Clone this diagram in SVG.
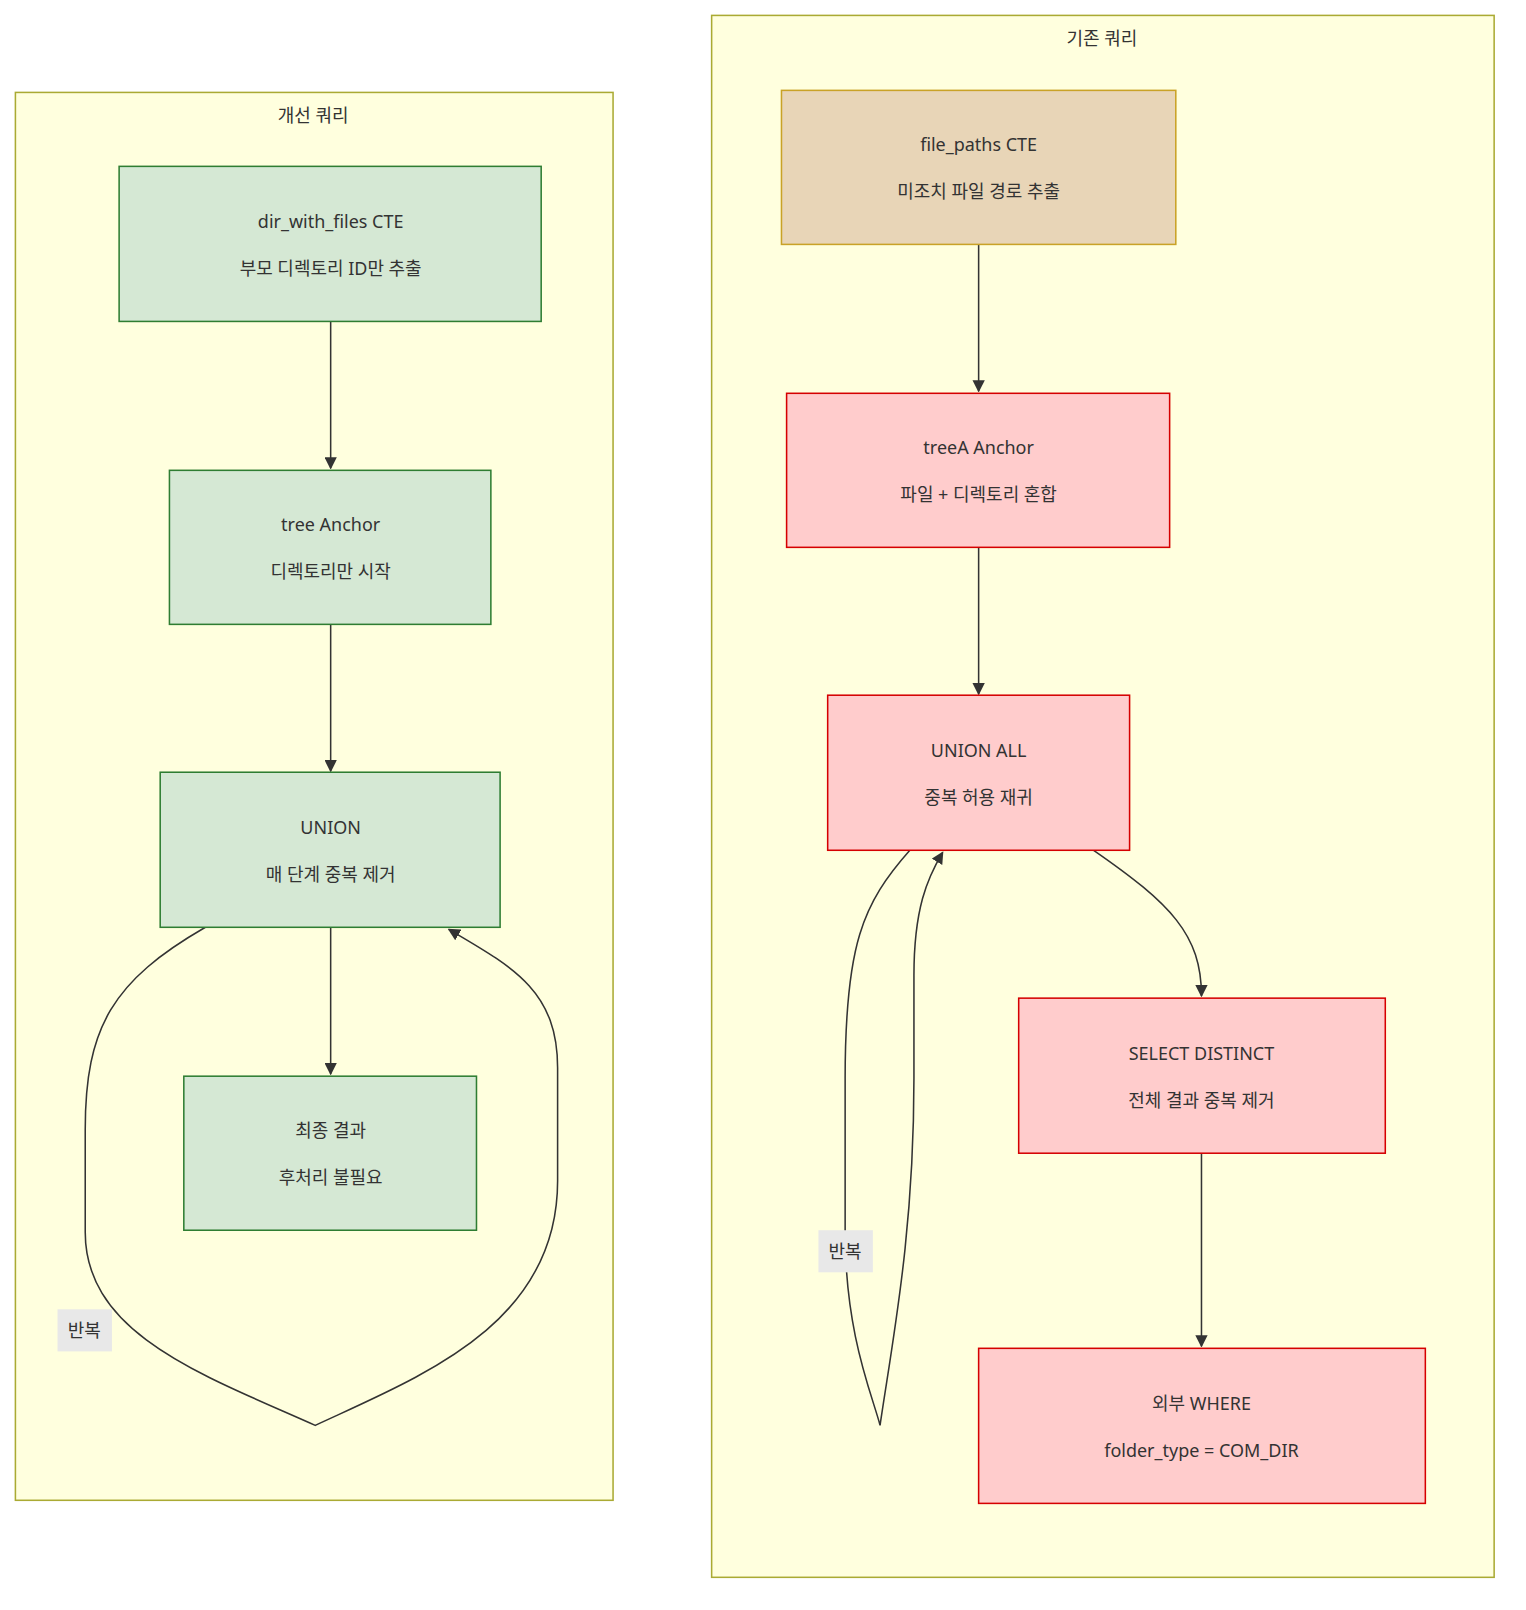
<svg xmlns="http://www.w3.org/2000/svg" width="1526" height="1610" viewBox="0 0 1526 1610">
<defs>
<style>
.cl{fill:#ffffde;stroke:#aaaa33;stroke-width:1.5}
.g{fill:#d5e8d4;stroke:#2e7d32;stroke-width:1.5}
.r{fill:#ffcccc;stroke:#d50000;stroke-width:1.5}
.o{fill:#e8d5b7;stroke:#c9a227;stroke-width:1.5}
text{font-family:"Noto Sans","Noto Sans CJK KR",sans-serif;font-size:17.5px;fill:#333;text-anchor:middle}
.e{fill:none;stroke:#333;stroke-width:1.5}
.lb{fill:#e8e8e8;stroke:none}
</style>
<marker id="a" viewBox="0 0 10 10" refX="9" refY="5" markerWidth="8" markerHeight="8" orient="auto"><path d="M0,0L10,5L0,10z" fill="#333"/></marker>
</defs>
<rect width="1526" height="1610" fill="#fff"/>
<g transform="scale(1.0269)">
<g id="cluster-new"><rect class="cl" x="15" y="90" width="582" height="1371"/><text x="305" y="119">개선 쿼리</text></g>
<g id="cluster-old"><rect class="cl" x="693" y="15" width="762" height="1521"/><text x="1073" y="44">기존 쿼리</text></g>
<g id="edges">
<path class="e" d="M322,313V456" marker-end="url(#a)"/>
<path class="e" d="M322,608V751" marker-end="url(#a)"/>
<path class="e" d="M322,903V1046" marker-end="url(#a)"/>
<path class="e" d="M200,903C110,955 83,1000 83,1100L83,1200C83,1300 200,1340 307,1388C410,1340 543,1290 543,1150L543,1040C543,965 500,942 437,905" marker-end="url(#a)"/>
<path class="e" d="M953,238V381" marker-end="url(#a)"/>
<path class="e" d="M953,533V676" marker-end="url(#a)"/>
<path class="e" d="M1065,828C1140,880 1170,910 1170,970" marker-end="url(#a)"/>
<path class="e" d="M1170,1123V1311" marker-end="url(#a)"/>
<path class="e" d="M886,828C840,880 823,920 823,1050L823,1200C823,1300 850,1360 857,1388C870,1300 890,1200 890,1050L890,950C890,885 903,855 918,830" marker-end="url(#a)"/>
<rect class="lb" x="56" y="1275" width="53" height="41"/><text x="82" y="1302">반복</text>
<rect class="lb" x="797" y="1198" width="53" height="41"/><text x="823" y="1225">반복</text>
</g>
<g id="n1"><rect class="g" x="116" y="162" width="411" height="151"/><text x="322" y="222">dir_with_files CTE</text><text x="322" y="268">부모 디렉토리 ID만 추출</text></g>
<g id="n2"><rect class="g" x="165" y="458" width="313" height="150"/><text x="322" y="517">tree Anchor</text><text x="322" y="563">디렉토리만 시작</text></g>
<g id="n3"><rect class="g" x="156" y="752" width="331" height="151"/><text x="322" y="812">UNION</text><text x="322" y="858">매 단계 중복 제거</text></g>
<g id="n4"><rect class="g" x="179" y="1048" width="285" height="150"/><text x="322" y="1107">최종 결과</text><text x="322" y="1153">후처리 불필요</text></g>
<g id="o1"><rect class="o" x="761" y="88" width="384" height="150"/><text x="953" y="147">file_paths CTE</text><text x="953" y="193">미조치 파일 경로 추출</text></g>
<g id="o2"><rect class="r" x="766" y="383" width="373" height="150"/><text x="953" y="442">treeA Anchor</text><text x="953" y="488">파일 + 디렉토리 혼합</text></g>
<g id="o3"><rect class="r" x="806" y="677" width="294" height="151"/><text x="953" y="737">UNION ALL</text><text x="953" y="783">중복 허용 재귀</text></g>
<g id="o4"><rect class="r" x="992" y="972" width="357" height="151"/><text x="1170" y="1032">SELECT DISTINCT</text><text x="1170" y="1078">전체 결과 중복 제거</text></g>
<g id="o5"><rect class="r" x="953" y="1313" width="435" height="151"/><text x="1170" y="1373">외부 WHERE</text><text x="1170" y="1419">folder_type = COM_DIR</text></g>
</g>
</svg>
